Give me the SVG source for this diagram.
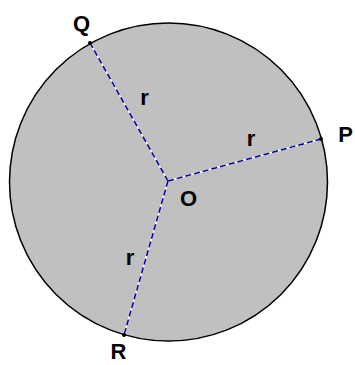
<svg xmlns="http://www.w3.org/2000/svg" width="355" height="365" viewBox="0 0 355 365">
<style>
.lbl{font-family:"Liberation Sans",Arial,sans-serif;font-size:22px;font-weight:bold;fill:#000;text-anchor:middle}
.under{stroke:#fff;stroke-width:1.5;fill:none}
.dash{stroke:#000099;stroke-width:1.5;stroke-dasharray:6 3;fill:none}
.pt{fill:#000}
</style>
<rect width="355" height="365" fill="#fff"/>
<g id="circle">
<circle cx="168.5" cy="182" r="159" fill="#c0c0c0" stroke="#000" stroke-width="1.5"/>
</g>
<g id="connectors">
<line class="under" x1="168" y1="181" x2="90" y2="43"/>
<line class="dash" x1="168" y1="181" x2="90" y2="43"/>
<line class="under" x1="168" y1="181" x2="321" y2="139"/>
<line class="dash" x1="168" y1="181" x2="321" y2="139"/>
<line class="under" x1="168" y1="181" x2="124" y2="335"/>
<line class="dash" x1="168" y1="181" x2="124" y2="335"/>
</g>
<g id="Q"><circle class="pt" cx="90" cy="43" r="2"/><text class="lbl" x="81.5" y="31">Q</text></g>
<g id="P"><circle class="pt" cx="321" cy="139" r="2"/><text class="lbl" x="345.5" y="142">P</text></g>
<g id="R"><circle class="pt" cx="124" cy="335" r="2"/><text class="lbl" x="118.5" y="359">R</text></g>
<g id="O"><text class="lbl" x="188.5" y="206">O</text></g>
<g id="labels">
<text class="lbl" x="144.5" y="105">r</text>
<text class="lbl" x="251" y="146">r</text>
<text class="lbl" x="130" y="265">r</text>
</g>
</svg>
